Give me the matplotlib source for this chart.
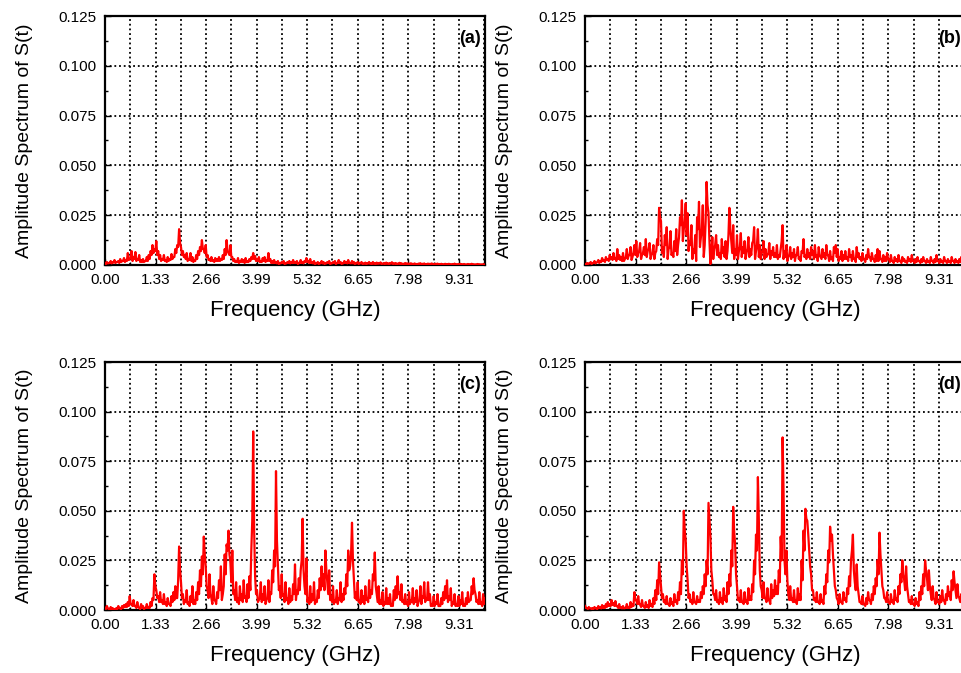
import numpy as np
import matplotlib
matplotlib.use("Agg")
import matplotlib.pyplot as plt
from matplotlib.ticker import MultipleLocator, FixedLocator

plt.rcParams['font.family'] = ['Liberation Sans', 'DejaVu Sans']

# Frequency axis (GHz): main samples every 0.05 GHz from 0 to 10,
# plus read-off values halfway between them (0.025, 0.075, ...)
freq_step = 0.05
n_points = 201

# Amplitudes in units of 1e-3
amp_a = [
    1, 1.5, 1, 2, 1.5, 2.5, 1.5, 2, 3, 2, 3.5, 2.5, 6, 3, 7, 4, 6.5, 3, 5, 2.5,
    3, 2, 4, 5, 7, 10, 8, 12, 7, 5, 3, 5, 2.5, 4, 3, 5.5, 4, 8, 10, 18,
    9, 7, 5, 6, 3, 6, 4, 2.5, 5, 7, 9, 12.5, 8, 10, 5, 3, 4, 2.5, 3.5, 3,
    4, 3, 5, 8, 12.5, 6, 10, 4, 3, 2, 3.5, 2, 3, 2.5, 3.5, 2, 3, 4, 6, 4.5,
    3, 4, 2, 3.5, 4, 2.5, 6, 3, 2, 2.5, 1.5, 2, 1, 1.5, 2, 1, 1.5, 2, 1.5, 2.5,
    1.5, 2, 1, 2.5, 1.5, 2, 3.5, 2, 3, 1.5, 2, 1, 1.5, 1, 2, 1.5, 1, 1.5, 2, 1,
    1.5, 2, 1, 2.5, 1.5, 1, 2, 1.5, 2.5, 1, 2, 1.5, 1, 1.5, 1, 1.5, 0.8, 1.2, 1, 1.5,
    1, 1.5, 0.8, 1.2, 1, 1.3, 0.7, 1, 1.2, 0.8, 1, 1.4, 0.8, 1, 0.7, 1.1, 0.9, 0.6, 1, 0.8,
    0.7, 0.9, 0.6, 0.8, 0.5, 0.7, 0.9, 0.6, 0.8, 0.5, 0.7, 0.6, 0.8, 0.5, 0.6, 0.7, 0.5, 0.6, 0.4, 0.6,
    0.5, 0.6, 0.4, 0.5, 0.7, 0.4, 0.5, 0.6, 0.4, 0.5, 0.3, 0.5, 0.4, 0.6, 0.4, 0.3, 0.5, 0.4, 0.3, 0.4, 0.3,
]
amp_a_mid = [
    0.5, 0.8, 1, 0.8, 1.2, 1, 1.5, 1, 1.5, 2, 1.5, 2, 2.5, 3.5, 2, 3, 2, 2.5, 1.5, 1.5,
    1.5, 2, 2, 3, 5, 6, 7, 5, 3, 2, 2.5, 2, 1.5, 2, 2.5, 3, 4, 6, 9, 11,
    5, 4, 3, 2, 2.5, 2, 1.5, 2, 3, 5, 7, 8, 6, 4, 2.5, 2, 2, 1.5, 2, 2,
    2, 2.5, 3, 5, 7, 5, 4, 2, 1.5, 1.5, 1, 1.5, 1.5, 1, 1.5, 1.5, 2, 3, 3, 2,
    2, 1.5, 1.5, 2, 1.5, 2, 2, 1, 1, 1, 0.8, 0.5, 0.8, 1, 0.5, 0.8, 1, 0.8, 1, 1,
    1, 0.5, 1, 1, 0.8, 1.5, 1.5, 1, 1, 0.8, 0.5, 0.8, 0.5, 0.8, 0.8, 0.5, 0.8, 1, 0.5, 0.8,
    1, 0.5, 1, 1, 0.5, 0.8, 1, 0.8, 1, 0.8, 0.8, 0.5, 0.8, 0.5, 0.8, 0.5, 0.6, 0.5, 0.7, 0.6,
    0.5, 0.6, 0.5, 0.6, 0.7, 0.5, 0.6, 0.5, 0.6, 0.5, 0.7, 0.5, 0.6, 0.4, 0.6, 0.5, 0.4, 0.5, 0.4, 0.5,
    0.4, 0.3, 0.4, 0.3, 0.4, 0.5, 0.3, 0.4, 0.3, 0.4, 0.3, 0.4, 0.3, 0.3, 0.4, 0.3, 0.3, 0.2, 0.3, 0.3,
    0.3, 0.2, 0.3, 0.3, 0.2, 0.3, 0.3, 0.2, 0.3, 0.2, 0.3, 0.2, 0.3, 0.2, 0.2, 0.3, 0.2, 0.2, 0.2, 0.2,
]

amp_b = [
    0.5, 1, 0.8, 1.5, 1, 2, 1.2, 2.5, 2, 3.5, 2.5, 4, 3, 5, 4, 6, 3.5, 8, 5, 4,
    6, 3, 8, 5, 9, 4, 10, 12, 6, 11, 5, 9, 13, 7, 11, 5, 10, 6, 13, 28.7,
    22, 9, 15, 19, 8, 17, 6, 12, 18, 10, 24, 32.5, 18, 31, 26, 12, 20, 8, 15, 24,
    31.7, 14, 30, 10, 41.7, 26, 0.5, 14, 8, 15, 10, 6, 13, 9, 12, 7, 28.7, 12, 20, 8,
    15, 7, 16, 9, 12, 6, 14, 8, 11, 19, 7, 18, 10, 6, 12, 8, 5, 11, 7, 9,
    6, 10, 5, 8, 20, 7, 10, 4, 9, 6, 8, 5, 9, 4, 7, 13, 5, 8, 6, 9,
    7, 10, 5, 9, 4, 8, 6, 10, 5, 7, 4, 9, 10, 8, 4, 7, 5, 7, 4, 8,
    5, 7, 3, 9, 6, 4, 6, 3, 5, 8, 4, 6, 3, 5, 8, 7, 3, 5, 4, 6,
    3, 5, 2, 4, 3, 5, 2, 4, 3, 2, 4, 3, 5, 2, 3, 4, 2, 3, 4, 2,
    3, 2, 4, 2, 3, 5, 2, 3, 2, 4, 2, 3, 2, 4, 2, 3, 2, 3, 4, 2, 3,
]
amp_b_mid = [
    0.3, 0.5, 0.8, 0.5, 1, 0.8, 1.5, 1, 1.5, 2, 1.5, 2.5, 2, 3, 2.5, 3, 2, 3, 2.5, 2,
    2, 4, 3, 5, 2.5, 6, 5, 4, 7, 3, 6, 5, 4, 8, 3, 6, 3, 7, 10, 24,
    6, 4, 10, 3, 9, 5, 4, 7, 5, 14, 20, 12, 22, 15, 7, 10, 3, 6, 2, 18,
    9, 18, 4, 22, 30, 12, 5, 3, 10, 5, 4, 3, 6, 4, 3, 15, 18, 6, 3, 5,
    3, 9, 4, 6, 3, 8, 4, 5, 12, 3, 10, 4, 3, 7, 3, 4, 6, 3, 5, 4,
    4, 3, 4, 12, 3, 4, 2, 5, 3, 4, 2, 5, 3, 2, 6, 4, 3, 4, 3, 5,
    3, 4, 2, 5, 3, 4, 3, 5, 2, 3, 2, 6, 4, 2, 3, 2, 3, 3, 2, 4,
    2, 3, 1.5, 4, 3, 2, 3, 1.5, 3, 4, 2, 3, 1.5, 2, 2, 3, 1.5, 2, 2, 3,
    1.5, 2, 1, 2, 1.5, 2, 1, 2, 1.5, 1, 2, 1.5, 2, 1, 1.5, 2, 1, 1.5, 2, 1,
    1.5, 1, 2, 1, 1.5, 2, 1, 1.5, 1, 2, 1, 1.5, 1, 2, 1, 1.5, 1, 1.5, 2, 1,
]

amp_c = [
    1, 2, 0.5, 1.5, 1, 0.5, 1, 2, 1, 2, 2.5, 3, 4, 7, 3, 5, 2, 4, 1, 3,
    2, 1, 3, 1.5, 4, 6, 18, 10, 7, 9, 5, 8, 4, 6, 3, 7, 9, 12, 6, 32,
    14, 8, 5, 10, 4, 7, 12, 5, 9, 14, 20, 27, 37, 22, 10, 18, 6, 12, 5, 9,
    15, 22, 8, 28, 33, 40, 24, 30, 10, 14, 6, 12, 8, 15, 7, 13, 17, 30, 90, 17,
    10, 5, 14, 8, 12, 5, 15, 9, 20, 30, 70, 22, 12, 18, 8, 14, 6, 11, 7, 13,
    23, 10, 16, 20, 46, 12, 26, 6, 12, 8, 14, 5, 10, 16, 22, 18, 30, 14, 20, 7,
    12, 5, 10, 6, 14, 8, 11, 18, 30, 22, 44, 16, 9, 14, 5, 10, 7, 12, 6, 15,
    10, 18, 29, 8, 12, 5, 9, 4, 11, 6, 8, 3, 10, 12, 17, 9, 13, 5, 8, 4,
    9, 5, 11, 6, 10, 4, 12, 7, 14, 6, 14, 8, 3, 7, 4, 8, 2, 6, 9, 12,
    15, 7, 11, 4, 8, 3, 7, 5, 9, 3, 6, 9, 5, 12, 16, 8, 5, 9, 4, 8, 6,
]
amp_c_mid = [
    0.5, 0.8, 0.3, 0.5, 0.3, 0.2, 0.5, 0.8, 0.5, 1, 1.5, 1.5, 2, 3, 2, 2, 1, 1.5, 0.5, 1,
    0.5, 1, 1, 1, 2, 5, 12, 6, 4, 4, 3, 3, 2, 3, 2, 4, 5, 6, 15, 20,
    6, 3, 4, 3, 2, 4, 3, 3, 5, 8, 12, 18, 28, 12, 6, 8, 3, 5, 3, 6,
    10, 5, 12, 18, 30, 28, 14, 8, 5, 4, 3, 5, 4, 6, 4, 6, 10, 45, 40, 8,
    4, 6, 4, 5, 3, 6, 4, 8, 14, 22, 35, 10, 6, 7, 4, 5, 3, 4, 5, 8,
    5, 8, 10, 25, 20, 8, 4, 3, 4, 5, 3, 4, 6, 10, 12, 10, 20, 8, 5, 4,
    3, 4, 3, 5, 4, 5, 8, 12, 20, 28, 25, 6, 5, 4, 3, 4, 3, 5, 4, 6,
    8, 15, 12, 4, 3, 3, 2, 3, 3, 3, 2, 2, 5, 6, 8, 5, 4, 3, 3, 2,
    3, 4, 3, 4, 2, 5, 3, 6, 4, 5, 5, 2, 2, 2, 3, 2, 2, 3, 5, 6,
    4, 5, 2, 3, 2, 2, 2, 3, 2, 2, 3, 4, 5, 8, 10, 4, 3, 3, 2, 3,
]

amp_d = [
    2, 1, 1.5, 0.8, 1, 1.5, 1, 2, 1.5, 2.5, 2, 3, 4, 3, 5, 3.5, 4.5, 2, 3, 1.5,
    2, 1, 3, 1.5, 4, 3, 9, 5, 7, 3, 5, 2, 4, 2.5, 5, 3, 6, 10, 15, 24,
    12, 8, 5, 7, 3, 6, 4, 8, 5, 9, 14, 25, 50, 35, 15, 8, 5, 9, 4, 7,
    5, 9, 12, 18, 25, 54, 37, 15, 8, 10, 5, 9, 6, 11, 7, 14, 18, 30, 52, 33,
    12, 6, 10, 4, 9, 5, 11, 7, 13, 25, 38, 67, 20, 10, 14, 6, 11, 5, 13, 10,
    15, 12, 20, 37, 87, 25, 30, 8, 12, 6, 10, 5, 11, 8, 25, 40, 51, 45, 30, 18,
    10, 6, 9, 4, 8, 5, 12, 18, 30, 42, 38, 20, 10, 5, 8, 4, 9, 6, 11, 17,
    25, 38, 14, 23, 8, 4, 7, 3, 6, 9, 5, 8, 12, 16, 25, 39, 20, 10, 6, 9,
    4, 8, 5, 10, 6, 12, 18, 25, 15, 22, 8, 5, 7, 3, 6, 4, 9, 12, 18, 25,
    16, 20, 8, 12, 5, 9, 4, 7, 10, 5, 8, 12, 9, 15, 19.5, 10, 13, 6, 8, 12, 7,
]
amp_d_mid = [
    1, 0.5, 0.8, 0.5, 0.5, 0.8, 0.5, 1, 0.8, 1, 1, 1.5, 2, 2, 2.5, 2, 2, 1, 1, 0.8,
    0.8, 1, 1, 1, 1.5, 2, 5, 3, 3, 1.5, 2, 1, 1.5, 1, 2, 1.5, 3, 5, 8, 18,
    6, 4, 3, 3, 2, 3, 2, 4, 3, 5, 8, 18, 40, 22, 6, 4, 3, 4, 3, 4,
    4, 6, 8, 12, 18, 45, 20, 8, 5, 4, 3, 4, 3, 5, 4, 8, 12, 22, 40, 18,
    5, 4, 4, 3, 4, 3, 5, 5, 9, 18, 30, 45, 12, 6, 6, 4, 5, 3, 6, 7,
    8, 8, 14, 25, 60, 18, 15, 5, 5, 4, 4, 3, 5, 5, 15, 30, 46, 38, 22, 10,
    5, 4, 4, 3, 4, 3, 8, 14, 24, 35, 28, 12, 6, 3, 4, 3, 5, 4, 8, 12,
    30, 20, 10, 12, 4, 3, 3, 2, 3, 5, 3, 5, 8, 12, 18, 28, 12, 6, 4, 4,
    3, 4, 3, 5, 4, 8, 14, 18, 10, 12, 4, 3, 3, 2, 3, 2, 5, 8, 12, 20,
    10, 12, 5, 6, 3, 4, 3, 4, 5, 3, 5, 7, 5, 10, 14, 6, 7, 4, 5, 6,
]

panel_labels = ['(a)', '(b)', '(c)', '(d)']
x_ticks = [0.00, 1.33, 2.66, 3.99, 5.32, 6.65, 7.98, 9.31]
y_ticks = [0.000, 0.025, 0.050, 0.075, 0.100, 0.125]
x_label = 'Frequency (GHz)'
y_label = 'Amplitude Spectrum of S(t)'


def merge(main, mid):
    """Interleave the on-grid values with the half-step values."""
    f_main = np.arange(n_points) * freq_step
    f_mid = f_main[:-1] + freq_step / 2
    f = np.concatenate([f_main, f_mid])
    v = np.concatenate([np.asarray(main, float), np.asarray(mid, float)])
    order = np.argsort(f)
    return f[order], v[order] * 1e-3


series = [merge(amp_a, amp_a_mid), merge(amp_b, amp_b_mid),
          merge(amp_c, amp_c_mid), merge(amp_d, amp_d_mid)]

fig = plt.figure(figsize=(9.61, 6.73), dpi=100)
W, H = 961.0, 673.0
positions = [
    (105, 16, 265),
    (585, 16, 265),
    (105, 362, 610),
    (585, 362, 610),
]
axw = 380

for k, (left, top, bottom) in enumerate(positions):
    ax = fig.add_axes([left / W, 1 - bottom / H, axw / W, (bottom - top) / H])
    f, vals = series[k]
    ax.plot(f, vals, color='#ff0000', lw=1.6, zorder=3)
    ax.set_xlim(0, 10)
    ax.set_ylim(0, 0.125)
    ax.xaxis.set_major_locator(FixedLocator(x_ticks))
    ax.xaxis.set_minor_locator(FixedLocator([t + 0.665 for t in x_ticks]))
    ax.yaxis.set_major_locator(FixedLocator(y_ticks))
    ax.yaxis.set_minor_locator(MultipleLocator(0.0125))
    ax.set_xticklabels([f'{t:.2f}' for t in x_ticks])
    ax.set_yticklabels([f'{t:.3f}' for t in y_ticks])
    ax.grid(which='both', axis='x', color='k', ls=(0, (1, 1.6)), lw=1.3)
    ax.grid(which='major', axis='y', color='k', ls=(0, (1, 1.6)), lw=1.3)
    ax.set_axisbelow(True)
    ax.tick_params(which='major', direction='in', length=4, width=1,
                   labelsize=11, top=False, right=False)
    ax.tick_params(which='minor', direction='in', length=2.5, width=1,
                   top=False, right=False)
    ax.tick_params(axis='y', which='major', pad=6)
    ax.tick_params(axis='x', which='major', pad=6)
    for sp in ax.spines.values():
        sp.set_linewidth(1.6)
        sp.set_color('k')
    ax.set_xlabel(x_label, fontsize=16)
    ax.set_ylabel(y_label, fontsize=14)
    ax.xaxis.set_label_coords(0.5, -0.14)
    ax.yaxis.set_label_coords(-0.19, 0.5)
    ax.text(0.99, 0.91, panel_labels[k], transform=ax.transAxes,
            ha='right', va='center', fontsize=13, fontweight='bold')

fig.savefig('out.png', dpi=100)
